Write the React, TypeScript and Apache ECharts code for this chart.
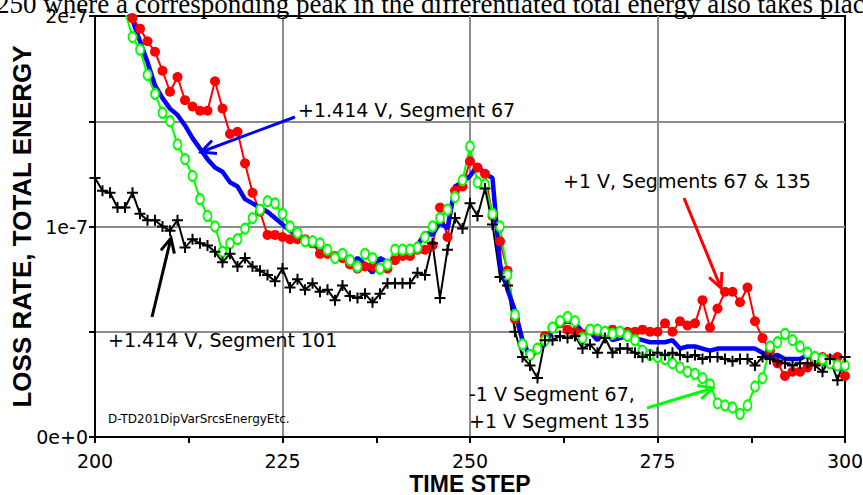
import React, { useEffect, useRef } from "react";
import * as echarts from "echarts";

// time steps 200..300 (one sample per step)
const TIME_STEPS: number[] = Array.from({ length: 101 }, (_, i) => 200 + i);

// values in units of 1e-7
// +1.414 V, Segment 67 (blue, thick)
const BLUE_SEG67: number[] = [
  2.62, 2.47, 2.32, 2.2, 2.1, 1.98, 1.88, 1.78, 1.67, 1.61,
  1.56, 1.53, 1.48, 1.42, 1.37, 1.32, 1.28, 1.26, 1.21, 1.19,
  1.13, 1.11, 1.09, 1.07, 1.04, 1.01, 0.98, 0.96, 0.94, 0.92,
  0.9, 0.88, 0.86, 0.86, 0.82, 0.85, 0.82, 0.78, 0.85, 0.83,
  0.84, 0.86, 0.89, 0.91, 0.97, 0.96, 1.02, 0.99, 1.19, 1.21,
  1.24, 1.29, 1.25, 1.23, 0.82, 0.7, 0.6, 0.46, 0.38, 0.41,
  0.44, 0.51, 0.54, 0.55, 0.54, 0.5, 0.5, 0.46, 0.51, 0.46,
  0.47, 0.48, 0.47, 0.46, 0.45, 0.45, 0.45, 0.46, 0.42, 0.43,
  0.43, 0.42, 0.41, 0.42, 0.42, 0.42, 0.42, 0.42, 0.42, 0.4,
  0.38, 0.39, 0.37, 0.37, 0.37, 0.39, 0.36, 0.35, 0.34, 0.33,
  0.32,
];

// +1 V, Segments 67 & 135 (red, filled circles)
const RED_SEG67_135: number[] = [
  2.62, 2.47, 2.32, 2.18, 2.05, 1.99, 1.94, 1.88, 1.83, 1.74,
  1.64, 1.71, 1.6, 1.57, 1.55, 1.55, 1.69, 1.56, 1.44, 1.45,
  1.3, 1.16, 1.07, 0.96, 0.96, 0.95, 0.94, 0.94, 0.94, 0.92,
  0.87, 0.87, 0.86, 0.85, 0.82, 0.8, 0.81, 0.81, 0.8, 0.8,
  0.84, 0.86, 0.86, 0.89, 0.89, 0.91, 1.09, 0.95, 1.17, 1.19,
  1.31, 1.28, 1.25, 1.05, 0.93, 0.79, 0.56, 0.44, 0.39, 0.42,
  0.48, 0.52, 0.54, 0.51, 0.5, 0.49, 0.51, 0.5, 0.49, 0.51,
  0.5, 0.5, 0.5, 0.51, 0.5, 0.5, 0.54, 0.5, 0.55, 0.53,
  0.54, 0.65, 0.52, 0.61, 0.69, 0.69, 0.64, 0.71, 0.55, 0.47,
  0.41, 0.35, 0.29, 0.31, 0.31, 0.33, 0.36, 0.38, 0.37, 0.38,
  0.29,
];

// -1 V Segment 67, +1 V Segment 135 (green, open circles)
const GREEN_SEG67_M1: number[] = [
  2.57, 2.42, 2.27, 2.12, 2.02, 1.9, 1.84, 1.72, 1.63, 1.54,
  1.5, 1.39, 1.32, 1.24, 1.13, 1.05, 1.0, 0.88, 0.92, 0.94,
  0.99, 1.04, 1.08, 1.12, 1.11, 1.06, 1.0, 0.97, 0.93, 0.93,
  0.92, 0.89, 0.85, 0.87, 0.84, 0.81, 0.87, 0.85, 0.8, 0.82,
  0.89, 0.89, 0.89, 0.9, 0.95, 1.0, 1.04, 1.08, 1.14, 1.22,
  1.38, 1.21, 1.2, 1.06, 1.0, 0.77, 0.58, 0.44, 0.39, 0.42,
  0.46, 0.52, 0.55, 0.57, 0.55, 0.47, 0.51, 0.51, 0.5, 0.49,
  0.5, 0.48, 0.46, 0.41, 0.39, 0.38, 0.37, 0.35, 0.33, 0.31,
  0.3, 0.28, 0.25, 0.16, 0.15, 0.14, 0.11, 0.15, 0.24, 0.28,
  0.43, 0.45, 0.49, 0.46, 0.43, 0.4, 0.38, 0.37, 0.35, 0.34,
  0.34,
];

// +1.414 V, Segment 101 (black, plus markers)
const BLACK_SEG101: number[] = [
  1.23, 1.17, 1.16, 1.09, 1.09, 1.16, 1.06, 1.03, 1.03, 1.0,
  0.98, 1.03, 0.9, 0.94, 0.92, 0.91, 0.88, 0.83, 0.87, 0.81,
  0.85, 0.81, 0.79, 0.77, 0.74, 0.8, 0.71, 0.75, 0.7, 0.73,
  0.69, 0.7, 0.65, 0.72, 0.67, 0.66, 0.68, 0.64, 0.68, 0.73,
  0.73, 0.73, 0.73, 0.78, 0.77, 0.92, 0.66, 0.89, 1.04, 0.99,
  1.11, 1.05, 1.18, 1.01, 0.76, 0.72, 0.5, 0.38, 0.34, 0.28,
  0.46, 0.46, 0.48, 0.47, 0.48, 0.42, 0.44, 0.4, 0.47, 0.4,
  0.42, 0.42, 0.4, 0.38, 0.39, 0.4, 0.39, 0.4, 0.39, 0.38,
  0.39, 0.37, 0.38, 0.38, 0.37, 0.36, 0.37, 0.37, 0.34, 0.38,
  0.37, 0.36, 0.35, 0.34, 0.35, 0.35, 0.34, 0.31, 0.37, 0.27,
  0.38,
];

const UNIT = 1e-7;
const X_MIN = 200;
const X_MAX = 300;
const X_STEP = 25;
const Y_MAX = 2e-7;
const Y_STEP = 0.5e-7;

const SANS = '"DejaVu Sans", sans-serif';
const ARIAL = '"Liberation Sans", Arial, sans-serif';

function toPairs(vals: number[]) {
  return vals.map((v, i) => [TIME_STEPS[i], v * UNIT]);
}

function arrow(x1: number, y1: number, x2: number, y2: number, color: string) {
  const a = Math.atan2(y2 - y1, x2 - x1);
  const len = 16;
  const ang = Math.PI / 7;
  const p1 = [x2 - len * Math.cos(a - ang), y2 - len * Math.sin(a - ang)];
  const p2 = [x2 - len * Math.cos(a + ang), y2 - len * Math.sin(a + ang)];
  return [
    { type: "line", shape: { x1, y1, x2, y2 }, style: { stroke: color, lineWidth: 3 }, z: 100 },
    {
      type: "polyline",
      shape: { points: [p1, [x2, y2], p2] },
      style: { stroke: color, lineWidth: 3, fill: null },
      z: 100,
    },
  ];
}

function label(text: string, x: number, y: number, size = 19, family = SANS) {
  return {
    type: "text",
    x,
    y,
    z: 100,
    style: { text, fontFamily: family, fontSize: size, fill: "#000", verticalAlign: "middle", align: "left" },
  };
}

export default function App() {
  const ref = useRef<HTMLDivElement>(null);
  useEffect(() => {
    if (!ref.current) return;
    const chart = echarts.init(ref.current, null, { renderer: "svg" });
    const gridColor = "#8c8c8c";
    chart.setOption({
      animation: false,
      backgroundColor: "#fff",
      grid: {
        left: 95,
        right: 18,
        top: 16,
        bottom: 58,
        containLabel: false,
        outerBoundsMode: "none",
        show: true,
        borderColor: "#000",
        borderWidth: 2,
        backgroundColor: "transparent",
      },
      xAxis: {
        type: "value",
        min: X_MIN,
        max: X_MAX,
        interval: X_STEP,
        name: "TIME STEP",
        nameLocation: "middle",
        nameGap: 35,
        nameMoveOverlap: false,
        nameTextStyle: { fontFamily: ARIAL, fontWeight: "bold", fontSize: 23, color: "#000" },
        axisLine: { show: true, lineStyle: { color: "#000", width: 2 } },
        axisTick: { show: true, inside: false, length: 6, lineStyle: { color: "#000", width: 2 } },
        minorTick: { show: true, splitNumber: 2, length: 6, lineStyle: { color: "#000", width: 2 } },
        axisLabel: { fontFamily: SANS, fontSize: 19, color: "#000", margin: 14 },
        splitLine: { show: true, showMinLine: false, showMaxLine: false, lineStyle: { color: gridColor, width: 2 } },
      },
      yAxis: {
        type: "value",
        min: 0,
        max: Y_MAX,
        interval: Y_STEP,
        name: "LOSS RATE, TOTAL ENERGY",
        nameLocation: "middle",
        nameGap: 60,
        nameMoveOverlap: false,
        nameTextStyle: { fontFamily: ARIAL, fontWeight: "bold", fontSize: 26, color: "#000" },
        axisLine: { show: true, lineStyle: { color: "#000", width: 2 } },
        axisTick: { show: true, inside: false, length: 6, lineStyle: { color: "#000", width: 2 } },
        axisLabel: {
          fontFamily: SANS,
          fontSize: 19,
          color: "#000",
          margin: 7,
          formatter: (v: number) => {
            const k = Math.round(v / Y_STEP);
            if (k % 2 !== 0) return "";
            return k === 0 ? "0e+0" : `${k / 2}e-7`;
          },
        },
        splitLine: { show: true, showMinLine: false, showMaxLine: false, lineStyle: { color: gridColor, width: 2 } },
      },
      series: [
        {
          name: "+1 V, Segments 67 & 135",
          type: "line",
          data: toPairs(RED_SEG67_135),
          symbol: "circle",
          symbolSize: 10,
          showAllSymbol: true,
          clip: true,
          lineStyle: { color: "#ff0000", width: 2 },
          itemStyle: { color: "#ff0000" },
        },
        {
          name: "-1 V Segment 67, +1 V Segment 135",
          type: "line",
          data: toPairs(GREEN_SEG67_M1),
          symbol: "emptyCircle",
          symbolSize: [8, 10],
          showAllSymbol: true,
          clip: true,
          lineStyle: { color: "#00ff00", width: 2 },
          itemStyle: { color: "#00ff00", borderColor: "#00ff00", borderWidth: 2 },
        },
        {
          name: "+1.414 V, Segment 101",
          type: "line",
          data: toPairs(BLACK_SEG101),
          symbol: "path://M0 5 L10 5 M5 0 L5 10",
          symbolSize: 11,
          showAllSymbol: true,
          clip: true,
          lineStyle: { color: "#000", width: 2 },
          itemStyle: { color: "#000", borderColor: "#000", borderWidth: 2 },
        },
        {
          name: "+1.414 V, Segment 67",
          type: "line",
          data: toPairs(BLUE_SEG67),
          symbol: "none",
          clip: true,
          lineStyle: { color: "#0000ff", width: 4.5 },
        },
      ],
      graphic: [
        {
          type: "text",
          x: -4,
          y: 17,
          z: 100,
          style: {
            text: "250 where a corresponding peak in the differentiated total energy also takes place",
            fontFamily: '"Liberation Serif", serif',
            fontSize: 27,
            fill: "#000",
            verticalAlign: "bottom",
            align: "left",
          },
        },
        label("+1.414 V, Segment 67", 298, 110),
        ...arrow(295, 117, 201, 152, "#0000ff"),
        label("+1 V, Segments 67 & 135", 563, 181),
        ...arrow(684, 198, 721, 288, "#ff0000"),
        label("+1.414 V, Segment 101", 108, 340),
        ...arrow(152, 317, 171, 238, "#000"),
        label("-1 V Segment 67,", 469, 394),
        label("+1 V Segment 135", 469, 421),
        ...arrow(647, 408, 713, 388, "#00ff00"),
        label("D-TD201DipVarSrcsEnergyEtc.", 108, 419, 12),
      ],
    });
    return () => chart.dispose();
  }, []);
  return <div ref={ref} style={{ position: "fixed", left: 0, top: 0, width: 863, height: 495 }} />;
}
